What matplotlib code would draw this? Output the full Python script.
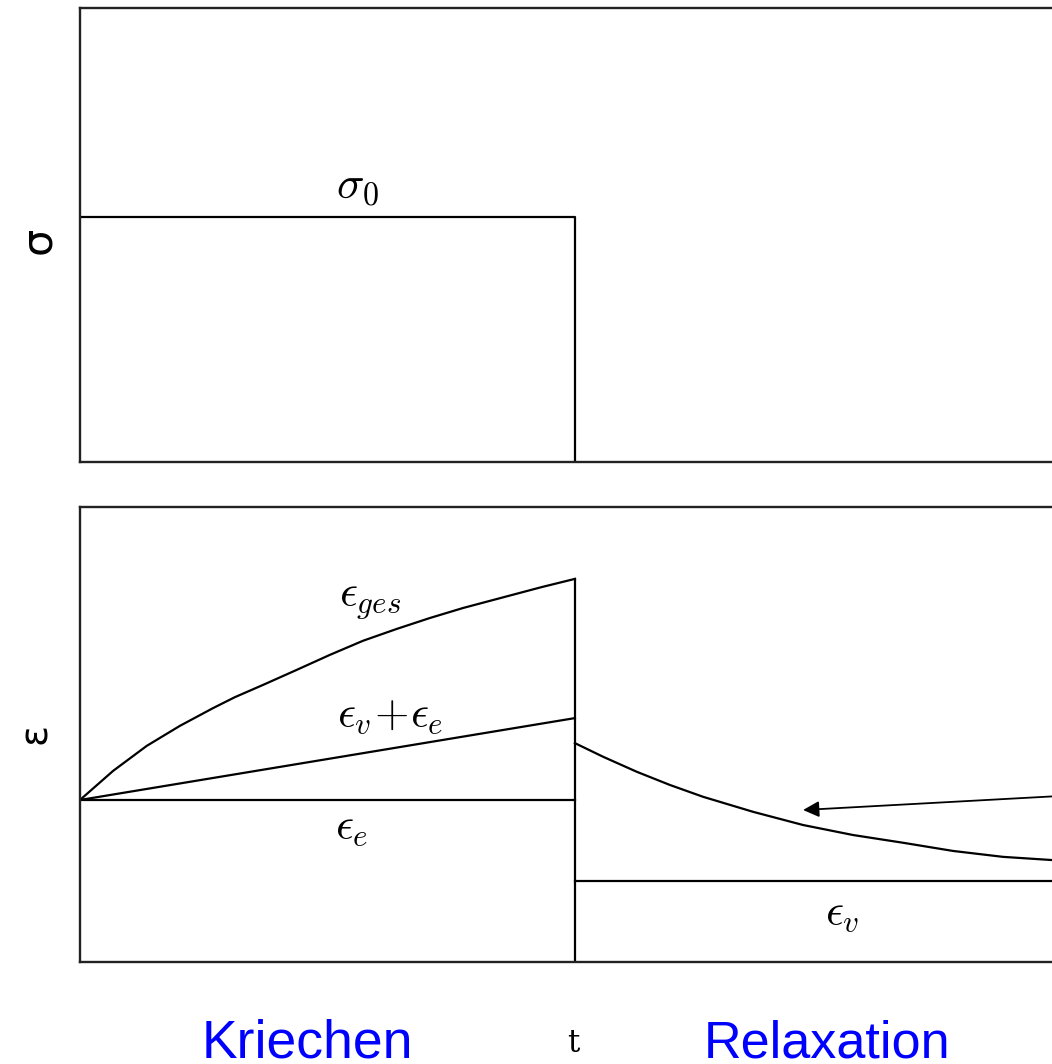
import numpy as np
import matplotlib.pyplot as plt

plt.rcParams['mathtext.fontset'] = 'cm'

# Spannung: Rechteckimpuls bis t = 1
sigma_0 = 0.54
t_step = 1.0
t_end = 2.0

# Dehnung waehrend des Kriechens (0 <= t <= 1)
t_kriech = [0.0, 0.067, 0.135, 0.202, 0.269, 0.313, 0.370, 0.438,
            0.505, 0.572, 0.640, 0.707, 0.774, 0.850, 0.933, 1.0]
eps_ges = [0.356, 0.420, 0.475, 0.519, 0.558, 0.582, 0.609, 0.642,
           0.675, 0.706, 0.732, 0.756, 0.778, 0.800, 0.824, 0.842]
eps_e = 0.356
eps_ve_end = 0.536

# Rueckverformung nach Entlastung (1 <= t <= 2)
t_relax = [1.0, 1.057, 1.125, 1.192, 1.259, 1.360, 1.461, 1.562,
           1.663, 1.764, 1.865, 1.964, 2.0]
eps_relax = [0.481, 0.451, 0.418, 0.389, 0.363, 0.330, 0.301, 0.279,
             0.262, 0.244, 0.231, 0.224, 0.221]
eps_v = 0.178

fig = plt.figure(figsize=(10.52, 10.64), dpi=100)
ax1 = fig.add_axes([0.076, 0.5658, 0.941, 0.4267])
ax2 = fig.add_axes([0.076, 0.0959, 0.941, 0.4276])

lw = 1.6
for ax in (ax1, ax2):
    ax.set_xlim(0, t_end)
    ax.set_ylim(0, 1)
    ax.set_xticks([])
    ax.set_yticks([])
    for s in ax.spines.values():
        s.set_linewidth(1.7)
        s.set_color('#222222')

# oben: sigma(t)
ax1.plot([0, t_step, t_step], [sigma_0, sigma_0, 0], color='black', lw=lw)
ax1.text(0.56, 0.61, r'$\sigma_0$', fontsize=33, ha='center', va='center')

# unten: epsilon(t)
ax2.plot(t_kriech, eps_ges, color='black', lw=lw)
ax2.plot([0, t_step], [eps_e, eps_ve_end], color='black', lw=lw)
ax2.plot([0, t_step], [eps_e, eps_e], color='black', lw=lw)
ax2.plot([t_step, t_step], [eps_ges[-1], 0], color='black', lw=lw)
ax2.plot(t_relax, eps_relax, color='black', lw=lw)
ax2.plot([t_step, t_end], [eps_v, eps_v], color='black', lw=lw)

ax2.text(0.586, 0.796, r'$\epsilon_{ges}$', fontsize=32, ha='center', va='center')
ax2.text(0.626, 0.543, r'$\epsilon_v\!+\!\epsilon_e$', fontsize=32, ha='center', va='center')
ax2.text(0.549, 0.297, r'$\epsilon_e$', fontsize=32, ha='center', va='center')
ax2.text(1.541, 0.108, r'$\epsilon_v$', fontsize=32, ha='center', va='center')

ax2.annotate('', xy=(1.461, 0.334), xytext=(2.0, 0.366),
             arrowprops=dict(arrowstyle='-|>', color='black', lw=1.3,
                             mutation_scale=24, shrinkA=0, shrinkB=0),
             annotation_clip=False)

# Achsenbeschriftungen
fig.text(38 / 1052, 1 - 240 / 1064, 'σ', fontsize=31, rotation=90,
         family='DejaVu Sans', ha='center', va='center')
fig.text(35 / 1052, 1 - 734 / 1064, 'ε', fontsize=28, rotation=90,
         family='DejaVu Sans', ha='center', va='center')
fig.text(573 / 1052, 1 - 1043 / 1064, 't', fontsize=22, family='DejaVu Serif',
         ha='center', va='center')

fig.text(307 / 1052, 1 - 1058 / 1064, 'Kriechen', fontsize=38.5, color='#0000ff',
         family='Liberation Sans', ha='center', va='baseline')
fig.text(827 / 1052, 1 - 1058 / 1064, 'Relaxation', fontsize=37.5, color='#0000ff',
         family='Liberation Sans', ha='center', va='baseline')

fig.savefig('out.png', dpi=100)
